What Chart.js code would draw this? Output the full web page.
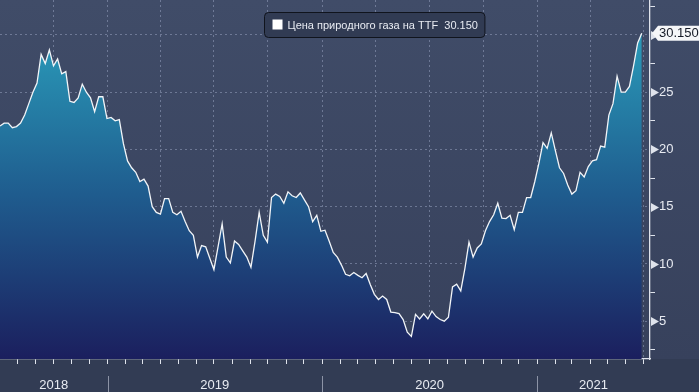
<!DOCTYPE html>
<html>
<head>
<meta charset="utf-8">
<style>
    html, body { margin: 0; padding: 0; background: #333d56; }
    #wrap { width: 699px; height: 392px; }
</style>
<script src="https://cdn.jsdelivr.net/npm/chart.js@4.4.0/dist/chart.umd.min.js"></script>
</head>
<body>
<div id="wrap"><canvas id="ttfChart" width="699" height="392"></canvas></div>
<script>
// data, weekly closes starting Monday 2 July 2018
const seriesLabel = 'Цена природного газа на TTF';
const firstWeek = Date.UTC(2018, 6, 2);
const years = [2018, 2019, 2020, 2021];
const yTicks = [2.5, 5, 7.5, 10, 12.5, 15, 17.5, 20, 22.5, 25, 27.5, 30, 32.5];
const ttfPrice = [
    22.05, 22.3, 22.3, 21.9, 22.0, 22.3, 23.0, 24.0, 25.0, 25.8,
    28.3, 27.5, 28.7, 27.3, 27.9, 26.6, 26.8, 24.2, 24.1, 24.5,
    25.7, 25.0, 24.5, 23.3, 24.6, 24.6, 22.7, 22.8, 22.5, 22.6,
    20.5, 19.0, 18.4, 18.0, 17.2, 17.4, 16.8, 15.0, 14.5, 14.35,
    15.7, 15.7, 14.5, 14.3, 14.6, 13.7, 12.9, 12.5, 10.6, 11.6,
    11.5, 10.5, 9.5, 11.5, 13.5, 10.6, 10.1, 12.0, 11.7, 11.15,
    10.6, 9.7, 12.0, 14.5, 12.5, 11.9, 15.8, 16.1, 15.9, 15.3,
    16.3, 15.95, 15.8, 16.2, 15.6, 15.0, 13.7, 14.25, 12.85, 12.95,
    12.0, 11.0, 10.6, 9.9, 9.1, 8.97, 9.25, 9.0, 8.8, 9.17,
    8.2, 7.35, 6.9, 7.2, 6.9, 5.8, 5.75, 5.67, 5.14, 4.05,
    3.67, 5.6, 5.2, 5.65, 5.2, 5.88, 5.4, 5.15, 5.0, 5.35,
    8.0, 8.23, 7.65, 9.6, 11.9, 10.6, 11.4, 11.75, 12.9, 13.7,
    14.3, 15.3, 14.0, 13.96, 14.25, 13.0, 14.5, 14.5, 15.8, 15.8,
    17.2, 18.8, 20.6, 20.1, 21.45, 19.9, 18.4, 17.9, 16.9, 16.1,
    16.4, 18.0, 17.6, 18.5, 19.0, 19.1, 20.3, 20.2, 23.0, 24.0,
    26.4, 25.0, 25.0, 25.5, 27.3, 29.3, 30.15
];

const WEEK = 7 * 86400000;
const X_MAX = 158;
const weekOf = (y, m) => (Date.UTC(y, m, 1) - firstWeek) / WEEK;

// month starts for the x tick marks
const monthTicks = [];
years.forEach(y => {
    for (let m = 0; m < 12; m++) {
        const w = weekOf(y, m);
        if (w > 0.5 && w <= X_MAX) monthTicks.push({ value: w, month: m });
    }
});
const isQuarter = v => monthTicks.some(t => Math.abs(t.value - v) < 1e-6 && t.month % 3 === 0);

const axisColor = '#dfe3ec';
const gridColor = 'rgba(150, 160, 190, 0.55)';
const textColor = '#e8ebf2';
const baseFont = '"Liberation Sans", Arial, sans-serif';

const backgroundPlugin = {
    id: 'background',
    beforeDraw(chart) {
        const { ctx, width, height, chartArea } = chart;
        const g = ctx.createLinearGradient(0, 0, 0, chartArea.bottom);
        g.addColorStop(0, '#404c68');
        g.addColorStop(1, '#37415c');
        ctx.save();
        ctx.fillStyle = g;
        ctx.fillRect(0, 0, width, chartArea.bottom);
        ctx.fillStyle = '#323c54';
        ctx.fillRect(0, chartArea.bottom, width, height - chartArea.bottom);
        ctx.restore();
    }
};

const decorPlugin = {
    id: 'decor',
    afterDraw(chart) {
        const { ctx, chartArea } = chart;
        const xs = chart.scales.x;
        const ys = chart.scales.y;
        ctx.save();

        // major tick triangles on the right axis
        ctx.fillStyle = axisColor;
        yTicks.filter(v => v % 5 === 0).forEach(v => {
            const py = Math.round(ys.getPixelForValue(v)) + 0.5;
            ctx.beginPath();
            ctx.moveTo(chartArea.right + 1, py - 4.5);
            ctx.lineTo(chartArea.right + 9, py);
            ctx.lineTo(chartArea.right + 1, py + 4.5);
            ctx.closePath();
            ctx.fill();
        });

        // year labels and separators
        ctx.font = '13px ' + baseFont;
        ctx.textAlign = 'center';
        ctx.textBaseline = 'middle';
        years.forEach(y => {
            const a = Math.max(weekOf(y, 0), xs.min);
            const b = Math.min(weekOf(y + 1, 0), xs.max);
            const pa = xs.getPixelForValue(a);
            const pb = xs.getPixelForValue(b);
            ctx.fillStyle = textColor;
            ctx.fillText(String(y), (pa + pb) / 2, 385);
            if (weekOf(y, 0) > xs.min) {
                const sx = Math.round(pa) + 0.5;
                ctx.strokeStyle = '#8c93a6';
                ctx.lineWidth = 1;
                ctx.beginPath();
                ctx.moveTo(sx, 376);
                ctx.lineTo(sx, 392);
                ctx.stroke();
            }
        });

        // last value tag
        const last = ttfPrice[ttfPrice.length - 1];
        const ly = ys.getPixelForValue(last);
        const tx = chartArea.right + 2;
        ctx.fillStyle = '#f5f6f8';
        ctx.beginPath();
        ctx.moveTo(tx, ly);
        ctx.lineTo(tx + 6, ly - 7.5);
        ctx.lineTo(chart.width, ly - 7.5);
        ctx.lineTo(chart.width, ly + 7.5);
        ctx.lineTo(tx + 6, ly + 7.5);
        ctx.closePath();
        ctx.fill();
        ctx.fillStyle = '#151a26';
        ctx.textAlign = 'left';
        ctx.fillText(last.toFixed(3), tx + 7, ly + 0.5);

        // legend box
        const legendText = seriesLabel + '  ' + last.toFixed(3);
        ctx.font = '11px ' + baseFont;
        const tw = ctx.measureText(legendText).width;
        const bx = 264.5, by = 12.5, bh = 25, bw = tw + 30;
        ctx.fillStyle = '#313b53';
        ctx.strokeStyle = '#10141d';
        ctx.lineWidth = 1;
        ctx.beginPath();
        ctx.roundRect(bx, by, bw, bh, 4);
        ctx.fill();
        ctx.stroke();
        ctx.fillStyle = '#ffffff';
        ctx.fillRect(bx + 8, by + 7, 10, 10);
        ctx.fillStyle = textColor;
        ctx.fillText(legendText, bx + 23, by + bh / 2 + 0.5);

        ctx.restore();
    }
};

new Chart(document.getElementById('ttfChart'), {
    type: 'line',
    data: {
        datasets: [{
            label: seriesLabel,
            data: ttfPrice.map((v, i) => ({ x: i, y: v })),
            borderColor: '#f2f5f8',
            borderWidth: 1.3,
            pointRadius: 0,
            tension: 0,
            fill: 'start',
            backgroundColor: (c) => {
                const area = c.chart.chartArea;
                if (!area) return 'rgba(30,90,140,1)';
                const g = c.chart.ctx.createLinearGradient(0, 30, 0, area.bottom);
                g.addColorStop(0, 'rgb(42, 156, 186)');
                g.addColorStop(0.5, 'rgb(31, 92, 142)');
                g.addColorStop(1, 'rgb(27, 31, 94)');
                return g;
            }
        }]
    },
    options: {
        responsive: false,
        animation: false,
        layout: { padding: 0 },
        plugins: {
            legend: { display: false },
            tooltip: { enabled: false }
        },
        scales: {
            x: {
                type: 'linear',
                min: 0,
                max: X_MAX,
                afterBuildTicks: s => { s.ticks = monthTicks.map(t => ({ value: t.value })); },
                afterFit: s => { s.height = 33; s.paddingLeft = 0; s.paddingRight = 0; },
                ticks: { callback: () => '', autoSkip: false, maxRotation: 0 },
                grid: {
                    color: c => (c.tick && isQuarter(c.tick.value)) ? gridColor : 'transparent',
                    tickColor: axisColor,
                    tickLength: 5
                },
                border: { color: axisColor, width: 1.3, dash: [2, 3] }
            },
            y: {
                position: 'right',
                min: 1.7,
                max: 33.05,
                afterBuildTicks: s => { s.ticks = yTicks.map(v => ({ value: v })); },
                afterFit: s => { s.width = 49; s.paddingTop = 0; s.paddingBottom = 0; },
                ticks: {
                    color: textColor,
                    font: { family: baseFont, size: 13 },
                    padding: 4,
                    autoSkip: false,
                    callback: v => (v % 5 === 0 ? String(v) : '')
                },
                grid: {
                    color: c => (c.tick && c.tick.value % 5 === 0) ? gridColor : 'transparent',
                    tickColor: c => (c.tick && c.tick.value % 5 === 0) ? 'transparent' : axisColor,
                    tickLength: 5
                },
                border: { color: axisColor, width: 1.3, dash: [2, 3] }
            }
        }
    },
    plugins: [backgroundPlugin, decorPlugin]
});
</script>
</body>
</html>
